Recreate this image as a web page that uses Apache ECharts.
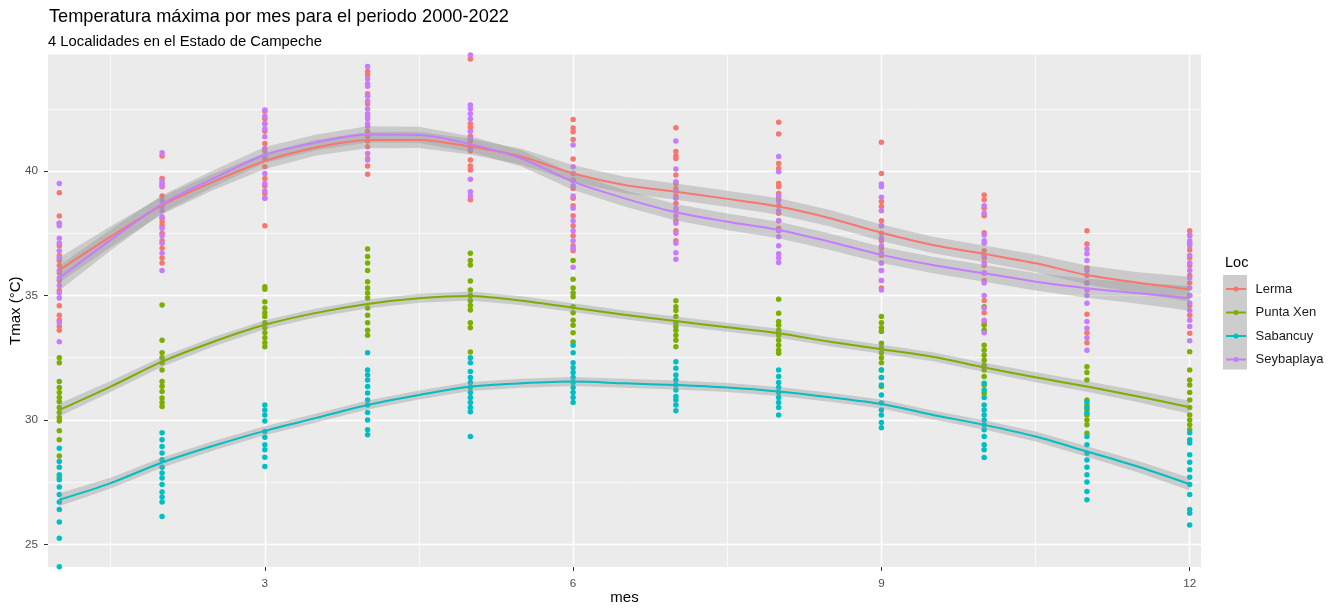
<!DOCTYPE html>
<html><head><meta charset="utf-8">
<script src="https://cdn.jsdelivr.net/npm/echarts@6/dist/echarts.min.js"></script>
<style>html,body{margin:0;padding:0;background:#fff}#c{width:1337px;height:609px}</style>
</head><body><div id="c"></div>
<script>
const months = [1,2,3,4,5,6,7,8,9,10,11,12];
const locations = ['Lerma','Punta Xen','Sabancuy','Seybaplaya'];
const colors = ['#F8766D','#7CAE00','#00BFC4','#C77CFF'];

// observed Tmax per month (one inner list per month)
const lermaPts = [
  [39.13,38.19,37.9,37.0,36.6,36.4,36.2,35.9,35.6,35.2,34.59,34.2,34.0,33.75,33.6],
  [40.6,39.7,39.5,39.37,39.0,38.1,37.95,37.8,37.5,37.2,36.9,36.5,36.3],
  [42.4,42.1,41.9,41.6,41.1,40.8,40.5,40.17,39.7,39.4,39.1,38.9,37.8],
  [44.0,43.86,43.1,42.7,42.2,41.6,41.4,41.2,40.97,40.5,40.2,39.87],
  [44.5,41.9,41.75,41.4,41.2,41.0,40.8,40.44,40.2,40.04,38.84],
  [42.07,41.73,41.58,41.27,40.48,39.9,39.6,39.3,38.9,38.6,38.2,37.8,37.4,37.0,36.8],
  [41.74,40.78,40.6,40.5,39.84,39.5,39.3,39.0,38.7,38.4,38.0,37.6,37.2],
  [41.96,41.49,40.3,40.1,39.5,39.37,39.1,38.9,38.6,38.3,38.0,37.7],
  [41.15,39.9,38.77,38.57,38.0,37.8,37.5,37.2,36.9,36.6,36.3,36.0,35.6,35.3],
  [39.04,38.84,38.5,38.2,37.52,36.8,36.5,36.2,35.9,35.6,34.8,34.3,33.9],
  [37.6,37.07,36.1,35.8,35.5,34.24,33.5,33.1],
  [37.6,37.4,37.1,36.83,36.5,36.2,35.8,35.5,35.0,34.6,34.2,33.48]
];
const puntaXenPts = [
  [32.5,32.3,31.54,31.3,31.1,30.9,30.73,30.5,30.3,30.1,29.96,29.56,29.2,28.55,27.7],
  [34.62,33.2,32.7,32.5,32.3,32.0,31.54,31.35,31.14,30.88,30.7,30.54],
  [35.35,35.25,34.75,34.5,34.3,34.15,33.9,33.7,33.5,33.3,33.1,32.94],
  [36.87,36.56,36.3,36.0,35.55,35.3,35.1,34.9,34.5,34.2,33.9,33.6,33.4],
  [36.7,36.4,36.22,35.58,35.22,35.0,34.8,34.6,34.42,33.9,33.7,32.73],
  [36.4,35.65,35.3,35.1,34.95,34.55,34.3,34.0,33.8,33.5,33.13],
  [34.79,34.55,34.4,34.15,33.9,33.75,33.6,33.4,33.2,32.94],
  [34.85,34.28,33.95,33.8,33.6,33.4,33.2,33.0,32.8,32.68],
  [34.15,33.9,33.7,33.55,33.08,32.9,32.7,32.5,32.3,32.0,31.7,31.34],
  [34.55,33.8,33.6,33.0,32.8,32.6,32.4,32.2,32.0,31.74,31.4,31.07],
  [32.14,31.9,31.6,30.8,30.6,30.4,30.2,30.0,29.8,29.46],
  [32.74,32.0,31.6,31.4,31.1,30.8,30.5,30.2,30.0,29.8,29.6]
];
const sabancuyPts = [
  [28.86,28.33,28.1,27.8,27.6,27.3,27.0,26.7,26.4,25.9,25.25,24.1],
  [29.48,29.2,28.93,28.67,28.4,28.1,27.87,27.67,27.4,27.1,26.9,26.7,26.12],
  [30.6,30.4,30.2,29.96,29.53,29.3,29.0,28.8,28.5,28.13],
  [32.7,32.0,31.8,31.6,31.34,31.08,30.8,30.6,30.3,30.0,29.6,29.4],
  [32.5,32.3,31.94,31.7,31.5,31.3,31.1,30.9,30.7,30.5,30.33,29.33],
  [33.0,32.7,32.3,32.1,31.9,31.7,31.5,31.3,31.1,30.9,30.7],
  [32.34,32.07,31.8,31.6,31.4,31.2,30.94,30.8,30.6,30.37],
  [32.0,31.74,31.5,31.3,31.1,30.9,30.7,30.5,30.2],
  [32.0,31.7,31.4,31.0,30.68,30.4,30.2,29.9,29.68],
  [31.47,31.2,30.9,30.6,30.4,30.2,30.0,29.8,29.6,29.33,29.0,28.8,28.49],
  [30.73,30.5,30.27,29.33,29.0,28.66,28.39,28.1,27.8,27.5,27.12,26.79],
  [29.48,29.2,29.07,28.6,28.3,28.0,27.7,27.4,27.0,26.4,26.25,25.78]
];
const seybaplayaPts = [
  [39.5,37.9,37.8,37.3,37.1,36.8,36.5,36.0,35.7,35.4,35.1,34.9,33.9,33.14],
  [40.73,39.6,39.4,38.8,38.57,38.4,38.16,37.7,37.4,37.1,36.7,36.0],
  [42.45,42.2,41.9,41.7,41.38,40.9,40.6,39.9,39.5,39.2,38.9],
  [44.2,43.7,43.5,43.4,43.0,42.8,42.5,42.3,42.1,41.9,41.8,40.7,40.44],
  [44.66,42.65,42.5,42.3,42.1,41.6,41.3,40.9,39.67,39.17,39.0],
  [41.04,40.17,39.9,39.64,39.4,39.0,38.5,38.0,37.6,37.2,36.9,36.13],
  [41.2,40.08,39.57,39.2,38.9,38.5,38.2,37.9,37.5,37.1,36.72,36.45],
  [40.58,39.97,39.0,38.8,38.4,38.0,37.6,37.36,37.0,36.67,36.5,36.32],
  [39.48,39.37,38.94,38.4,37.8,37.3,37.0,36.7,36.3,36.0,35.6,35.22],
  [38.6,38.3,37.43,37.2,37.1,36.6,36.3,35.9,35.5,35.0,34.5,34.0,33.5],
  [36.87,36.67,36.4,36.0,35.5,35.22,35.0,34.69,33.95,33.68,33.3,32.8],
  [37.43,37.2,37.0,36.6,36.3,36.0,35.7,35.3,35.0,34.7,34.4,34.0,33.75,33.18]
];

const smoothX = [1,1.5,2,2.5,3,3.5,4,4.5,5,5.5,6,6.5,7,7.5,8,8.5,9,9.5,10,10.5,11,11.5,12];
const lermaFit = [36.02,37.36,38.62,39.57,40.4,40.94,41.24,41.25,40.98,40.57,39.9,39.44,39.17,38.88,38.57,38.1,37.52,37.03,36.67,36.29,35.82,35.51,35.25];
const puntaXenFit = [30.4,31.34,32.34,33.14,33.82,34.3,34.66,34.89,34.98,34.79,34.51,34.22,33.97,33.72,33.48,33.14,32.84,32.54,32.11,31.71,31.34,30.94,30.51];
const sabancuyFit = [26.79,27.46,28.29,28.96,29.56,30.08,30.6,31.0,31.34,31.47,31.54,31.47,31.4,31.3,31.14,30.91,30.64,30.2,29.8,29.33,28.73,28.12,27.42];
const seybaplayaFit = [35.7,37.23,38.67,39.7,40.64,41.15,41.47,41.45,41.08,40.5,39.57,38.9,38.34,37.96,37.63,37.16,36.63,36.22,35.89,35.55,35.29,35.09,34.89];
const wideBand = [0.5,0.42,0.36,0.33,0.32,0.32,0.33,0.33,0.32,0.32,0.33,0.33,0.33,0.33,0.33,0.33,0.33,0.33,0.34,0.35,0.38,0.42,0.5];
const narrowBand = [0.26,0.22,0.2,0.19,0.18,0.18,0.18,0.18,0.18,0.18,0.18,0.18,0.18,0.18,0.18,0.18,0.18,0.18,0.19,0.2,0.21,0.23,0.26];

const xTicks = [3,6,9,12];
const xMinor = [1.5,4.5,7.5,10.5];
const yTicks = [25,30,35,40];
const yMinor = [27.5,32.5,37.5,42.5];

const FONT = 'Liberation Sans, Arial, sans-serif';
const pts = [lermaPts, puntaXenPts, sabancuyPts, seybaplayaPts];
const fits = [lermaFit, puntaXenFit, sabancuyFit, seybaplayaFit];
const bands = [wideBand, narrowBand, narrowBand, wideBand];

const series = [];
locations.forEach((name, i) => {
  const data = [];
  pts[i].forEach((vals, m) => vals.forEach(v => data.push([months[m], v])));
  series.push({
    name, type: 'scatter', data, symbolSize: 5.5, z: 2,
    itemStyle: { color: colors[i], opacity: 1 }, silent: true
  });
});
locations.forEach((name, i) => {
  const fit = fits[i], band = bands[i];
  series.push({
    name: name + '_band', type: 'custom', z: 3, silent: true, clip: true,
    data: smoothX.map((x, k) => [x, fit[k] - band[k], fit[k] + band[k]]),
    encode: { x: 0, y: [1, 2] },
    renderItem: (params, api) => {
      if (params.dataIndex !== 0) return null;
      const up = smoothX.map((x, k) => api.coord([x, fit[k] + band[k]]));
      const lo = smoothX.map((x, k) => api.coord([x, fit[k] - band[k]])).reverse();
      return { type: 'polygon', shape: { points: up.concat(lo) },
               style: { fill: 'rgba(153,153,153,0.4)' } };
    }
  });
});
locations.forEach((name, i) => {
  series.push({
    name: name + '_fit', type: 'line', smooth: 0.3, symbol: 'none', z: 4,
    data: smoothX.map((x, k) => [x, fits[i][k]]),
    lineStyle: { width: 2, color: colors[i] }, itemStyle: { color: colors[i] }, silent: true
  });
});

const legendIcon = 'path://M0,1.5H20V3.5H0Z M12.5,2.5A2.5,2.5 0 1,1 7.5,2.5A2.5,2.5 0 1,1 12.5,2.5Z';

const chart = echarts.init(document.getElementById('c'), null, { renderer: 'canvas' });
chart.setOption({
  animation: false,
  backgroundColor: '#FFFFFF',
  title: [
    { text: 'Temperatura máxima por mes para el periodo 2000-2022', left: 49, top: 7.5, padding: 0,
      textStyle: { fontFamily: FONT, fontSize: 18.2, fontWeight: 'normal', color: '#000' } },
    { text: '4 Localidades en el Estado de Campeche', left: 48, top: 34, padding: 0,
      textStyle: { fontFamily: FONT, fontSize: 14.8, fontWeight: 'normal', color: '#000' } },
    { text: 'Loc', left: 1225, top: 255, padding: 0,
      textStyle: { fontFamily: FONT, fontSize: 14.5, fontWeight: 'normal', color: '#000' } }
  ],
  grid: { left: 48, right: 136, top: 54.5, bottom: 42, show: true, backgroundColor: '#EBEBEB',
          borderWidth: 0, containLabel: false, outerBoundsMode: 'none' },
  xAxis: [
    { type: 'value', min: 0.89, max: 12.11, name: 'mes', nameLocation: 'middle', nameGap: 23,
      nameMoveOverlap: false,
      nameTextStyle: { fontFamily: FONT, fontSize: 15, color: '#000' },
      axisLine: { show: false },
      axisTick: { show: true, length: 4, customValues: xTicks, lineStyle: { color: '#333333', width: 1 } },
      axisLabel: { customValues: xTicks, margin: 11, fontFamily: FONT, fontSize: 11.7, color: '#4D4D4D' },
      splitLine: { show: true, lineStyle: { color: '#FFFFFF', width: 1.4 } } },
    { type: 'value', min: 0.89, max: 12.11, position: 'top',
      axisLine: { show: false }, axisLabel: { show: false },
      axisTick: { show: false, customValues: xMinor },
      splitLine: { show: true, lineStyle: { color: '#FFFFFF', width: 0.7 } } }
  ],
  yAxis: [
    { type: 'value', min: 24.09, max: 44.68, name: 'Tmax (°C)', nameLocation: 'middle', nameGap: 25,
      nameMoveOverlap: false,
      nameTextStyle: { fontFamily: FONT, fontSize: 15, color: '#000' },
      axisLine: { show: false },
      axisTick: { show: true, length: 4, customValues: yTicks, lineStyle: { color: '#333333', width: 1 } },
      axisLabel: { customValues: yTicks, margin: 10, fontFamily: FONT, fontSize: 11.7, color: '#4D4D4D' },
      splitLine: { show: true, lineStyle: { color: '#FFFFFF', width: 1.4 } } },
    { type: 'value', min: 24.09, max: 44.68, position: 'right',
      axisLine: { show: false }, axisLabel: { show: false },
      axisTick: { show: false, customValues: yMinor },
      splitLine: { show: true, lineStyle: { color: '#FFFFFF', width: 0.7 } } }
  ],
  legend: {
    orient: 'vertical', left: 1226, top: 282, itemWidth: 20, itemHeight: 5, itemGap: 9.5,
    selectedMode: false, padding: 0,
    data: locations.map(n => ({ name: n, icon: legendIcon })),
    textStyle: { fontFamily: FONT, fontSize: 13, color: '#1A1A1A', lineHeight: 14, padding: [0, 0, 0, 4.5] }
  },
  graphic: [
    { type: 'rect', left: 1223, top: 275, z: -10, silent: true,
      shape: { width: 24, height: 94.5 }, style: { fill: '#CDCDCD' } }
  ],
  series
});
</script></body></html>
